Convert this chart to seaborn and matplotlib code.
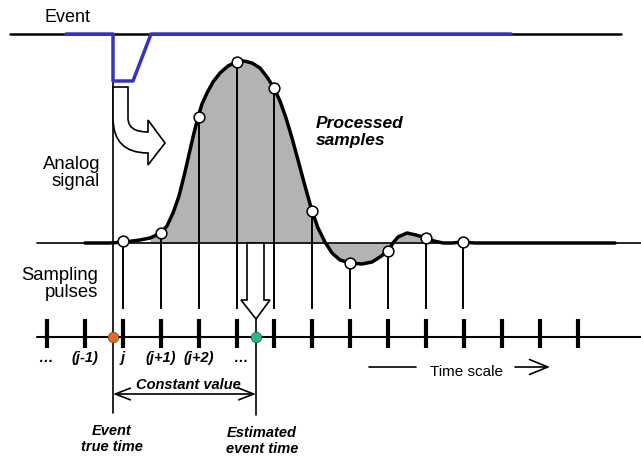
"""Timing diagram: event, analog signal, sampling pulses and estimated event time."""

import matplotlib
matplotlib.use("Agg")
import matplotlib.pyplot as plt
from matplotlib.path import Path
from matplotlib.patches import PathPatch, Polygon
import seaborn as sns

# --- data (pixel coordinates) ---
# analog signal curve
curve_x = [85, 110, 125, 140, 150, 161, 167, 173, 179, 185, 190, 194, 198, 202, 207,
           213, 220, 228, 236, 244, 252, 260, 267, 274, 280, 286, 292, 298, 305, 312,
           318, 325, 332, 340, 350, 362, 372, 380, 388, 393, 398, 407, 416, 426, 434,
           443, 452, 463, 475, 615]
curve_y = [243, 243, 242, 240, 238, 233, 226, 213, 196, 172, 150, 133, 117, 104, 93,
           82, 73, 66, 62, 61, 63, 68, 77, 88, 101, 118, 138, 160, 186, 211,
           228, 242, 253, 260, 263, 264, 262, 257, 251, 243, 237, 233, 235, 238, 241,
           243, 243, 242, 243, 243]
baseline_y = 243

# processed samples
sample_x = [123, 161, 199, 237, 274, 312, 350, 388, 426, 463]
sample_y = [241, 233, 117, 62, 88, 211, 263, 251, 238, 242]
pulse_bottom = 309

# time scale ticks and labels
tick_x = [47, 85, 123, 161, 199, 237, 274, 312, 350, 388, 426, 464, 502, 540, 578]
tick_labels = ["…", "(j-1)", "j", "(j+1)", "(j+2)", "…"]
label_x = [45, 85, 123, 161, 199, 240]
axis_y = 337

# event pulse (blue)
event_x = [66, 113, 113, 133, 151, 511]
event_y = [34, 34, 81, 81, 34, 34]

true_time_x = 113
estimated_time_x = 256

sns.set_theme(style="white")
plt.rcParams["font.family"] = ["Liberation Sans", "DejaVu Sans"]
plt.rcParams["text.color"] = "black"

fig = plt.figure(figsize=(6.41, 4.57), dpi=100)
ax = fig.add_axes([0, 0, 1, 1])
ax.set_xlim(0, 641)
ax.set_ylim(457, 0)
ax.axis("off")

# event line
ax.plot([10, 621], [34, 34], color="black", lw=1.8, zorder=2)
ax.plot(event_x, event_y, color="#3333CC", lw=2.5, zorder=3)

# analog signal: baseline, fill and curve
ax.plot([37, 641], [baseline_y, baseline_y], color="black", lw=1.2, zorder=2)
ax.fill_between(curve_x[4:49], curve_y[4:49], baseline_y, color="#B3B3B3", lw=0, zorder=1)
sns.lineplot(x=curve_x, y=curve_y, ax=ax, color="black", lw=2.5, sort=False,
             estimator=None, zorder=4)

# sampling pulses
ax.vlines(sample_x, sample_y, pulse_bottom, color="black", lw=1.4, zorder=3)

# down arrow to estimated time
ax.add_patch(Polygon([(247, 243), (264, 243), (264, 300), (270, 300), (256, 319),
                      (241, 300), (247, 300)], closed=True, facecolor="white",
                     edgecolor="black", lw=1.2, zorder=3))

sns.scatterplot(x=sample_x, y=sample_y, ax=ax, s=60, color="white",
                edgecolor="black", linewidth=1.1, zorder=6)

# event / estimated time lines
ax.plot([true_time_x, true_time_x], [43, 413], color="black", lw=1.2, zorder=2)
ax.plot([estimated_time_x, estimated_time_x], [319, 415], color="black", lw=1.2, zorder=2)

# curved arrow from event into signal
verts = [(113, 87), (128, 87), (128, 118), (128, 132), (148, 132), (148, 120),
         (165, 143), (148, 165), (148, 153), (113, 153), (113, 118), (113, 87)]
codes = [Path.MOVETO, Path.LINETO, Path.LINETO, Path.CURVE3, Path.CURVE3,
         Path.LINETO, Path.LINETO, Path.LINETO, Path.LINETO, Path.CURVE3,
         Path.CURVE3, Path.CLOSEPOLY]
ax.add_patch(PathPatch(Path(verts, codes), facecolor="white", edgecolor="black",
                       lw=1.2, zorder=3))

# time axis
ax.plot([37, 641], [axis_y, axis_y], color="black", lw=1.5, zorder=2)
ax.vlines(tick_x, 319, 348, color="black", lw=3, zorder=3)
ax.plot(true_time_x, axis_y, "o", ms=7.5, color="#F26A10", mec="#555555", mew=0.6, zorder=7)
ax.plot(estimated_time_x, axis_y, "o", ms=7.5, color="#17C08C", mec="#555555", mew=0.6, zorder=7)
for x, lab in zip(label_x, tick_labels):
    ax.text(x, 358, lab, ha="center", va="center", fontsize=10.5,
            fontweight="bold", fontstyle="italic")

# constant value arrow
ax.annotate("", xy=(true_time_x, 394), xytext=(estimated_time_x, 394),
            arrowprops=dict(arrowstyle="<->,head_length=0.9,head_width=0.35",
                            color="black", lw=1.2, shrinkA=0, shrinkB=0))
ax.text(188, 385, "Constant value", ha="center", va="center", fontsize=10.5,
        fontweight="bold", fontstyle="italic")

# time scale
ax.plot([369, 416], [367, 367], color="black", lw=1.2)
ax.annotate("", xy=(550, 367), xytext=(515, 367),
            arrowprops=dict(arrowstyle="->,head_length=1.1,head_width=0.45",
                            color="black", lw=1.2, shrinkA=0, shrinkB=0))
ax.text(466, 372, "Time scale", ha="center", va="center", fontsize=11)

# labels
ax.text(44, 18, "Event", ha="left", va="center", fontsize=13)
ax.text(100, 173, "Analog\nsignal", ha="right", va="center", fontsize=13.3,
        linespacing=1.05)
ax.text(98, 284, "Sampling\npulses", ha="right", va="center", fontsize=13.3,
        linespacing=1.05)
ax.text(316, 132, "Processed\nsamples", ha="left", va="center", fontsize=12.5,
        fontweight="bold", fontstyle="italic", linespacing=1.1)
ax.text(112, 439, "Event\ntrue time", ha="center", va="center", fontsize=10.5,
        fontweight="bold", fontstyle="italic", linespacing=1.1)
ax.text(262, 441, "Estimated\nevent time", ha="center", va="center", fontsize=10.5,
        fontweight="bold", fontstyle="italic", linespacing=1.1)

fig.savefig("out.png", dpi=100)
plt.close(fig)
